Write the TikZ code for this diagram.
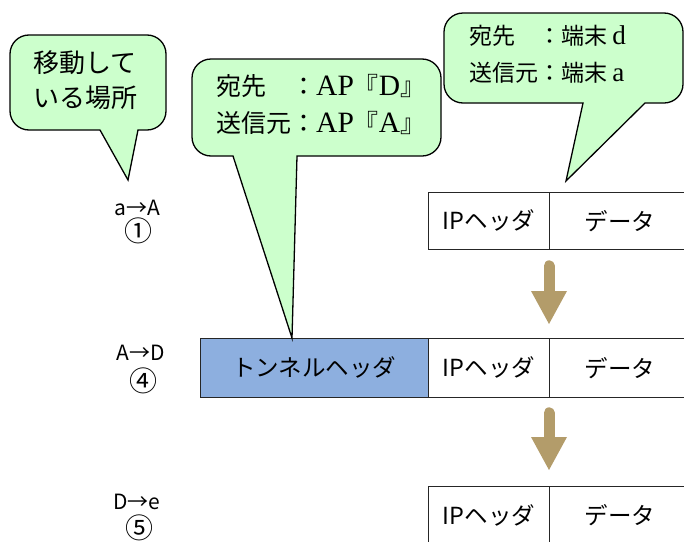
\documentclass[tikz,border=0pt]{standalone}
\usepackage{fontspec}
\setmainfont{Noto Sans CJK JP}
\newfontfamily\jp{Noto Sans CJK JP}
\newfontfamily\rom[Scale=1.18]{Liberation Serif}
\usetikzlibrary{calc}
\definecolor{bubgreen}{HTML}{CCFFCC}
\definecolor{tunblue}{HTML}{8DAFDF}
\definecolor{arrbrown}{HTML}{B39C6A}
\def\bubr{19}
\newcommand\bubble[8]{%
  \filldraw[bubbleshape] (#1+\bubr,-#2) -- (#3-\bubr,-#2)
    arc[start angle=90,end angle=0,radius=\bubr pt] -- (#3,-#4+\bubr)
    arc[start angle=0,end angle=-90,radius=\bubr pt] -- (#6,-#4) -- (#7,-#8) -- (#5,-#4)
    -- (#1+\bubr,-#4) arc[start angle=270,end angle=180,radius=\bubr pt] -- (#1,-#2-\bubr)
    arc[start angle=180,end angle=90,radius=\bubr pt] -- cycle;}
\tikzset{
  bubbleshape/.style={fill=bubgreen, draw=black, line width=1.3pt, line join=miter},
  cell/.style={draw=black!85, line width=0.8pt, inner sep=0pt, font=\jp\fontsize{23.5}{27}\selectfont},
  steplabel/.style={font=\jp\fontsize{21}{24}\selectfont, inner sep=0pt},
  circnum/.style={font=\jp\fontsize{28}{30}\selectfont, inner sep=0pt},
  bubtext/.style={align=left, anchor=west, inner sep=0pt},
  blockshaft/.style={draw=arrbrown, line width=11pt, line cap=round},
  blockhead/.style={fill=arrbrown},
}
\begin{document}
\begin{tikzpicture}[x=1pt,y=1pt]
\useasboundingbox (0,0) rectangle (684,-541);
\clip (0,0) rectangle (684,-541);
% packet rows
\node[cell, minimum width=121pt, minimum height=57pt, anchor=north west] (ip1) at (428,-192) {IPヘッダ};
\node[cell, minimum width=141pt, minimum height=57pt, anchor=north west] (d1) at (549,-192) {データ};
\node[cell, fill=tunblue, minimum width=228pt, minimum height=59pt, anchor=north west] (tun) at (200,-338) {トンネルヘッダ};
\node[cell, minimum width=121pt, minimum height=59pt, anchor=north west] (ip2) at (428,-338) {IPヘッダ};
\node[cell, minimum width=141pt, minimum height=59pt, anchor=north west] (d2) at (549,-338) {データ};
\node[cell, minimum width=121pt, minimum height=58pt, anchor=north west] (ip3) at (428,-486) {IPヘッダ};
\node[cell, minimum width=141pt, minimum height=58pt, anchor=north west] (d3) at (549,-486) {データ};
% block arrows
\coordinate (a1s) at ($(d1.south west)+(0,-16)$);
\coordinate (a1t) at ($(d2.north west)+(0,14)$);
\coordinate (a2s) at ($(d2.south west)+(0,-15)$);
\coordinate (a2t) at ($(d3.north west)+(0,16)$);
\draw[blockshaft] (a1s) -- ($(a1t)+(0,30)$);
\fill[blockhead] ($(a1t)+(-18,33)$) -- ($(a1t)+(18,33)$) -- (a1t) -- cycle;
\draw[blockshaft] (a2s) -- ($(a2t)+(0,30)$);
\fill[blockhead] ($(a2t)+(-18,33)$) -- ($(a2t)+(18,33)$) -- (a2t) -- cycle;
% step labels
\node[steplabel] (s1) at (137,-208) {a→A};
\node[circnum] (c1) at (138,-231) {①};
\node[steplabel] (s4) at (141,-353) {A→D};
\node[circnum] (c4) at (143,-381) {④};
\node[steplabel] (s5) at (137,-502) {D→e};
\node[circnum] (c5) at (139,-528) {⑤};
% callouts
\bubble{10}{35}{166}{130}{100}{138}{128}{180}
\node[font=\jp\fontsize{26}{35}\selectfont, align=left, inner sep=0pt] (b1) at (85,-80) {移動して\\いる場所};
\bubble{192}{59}{441}{156}{233}{297}{292}{338}
\node[bubtext, font=\jp\fontsize{25}{37}\selectfont] (b2) at (216,-104)
  {\makebox[75pt][l]{宛先}：{\rom AP}『{\rom D}』\\送信元：{\rom AP}『{\rom A}』};
\bubble{444}{13}{683}{103}{583}{645}{566}{181}
\node[bubtext, font=\jp\fontsize{23}{37}\selectfont] (b3) at (469,-54)
  {\makebox[69pt][l]{宛先}：端末 {\rom d}\\送信元：端末 {\rom a}};
\end{tikzpicture}
\end{document}
